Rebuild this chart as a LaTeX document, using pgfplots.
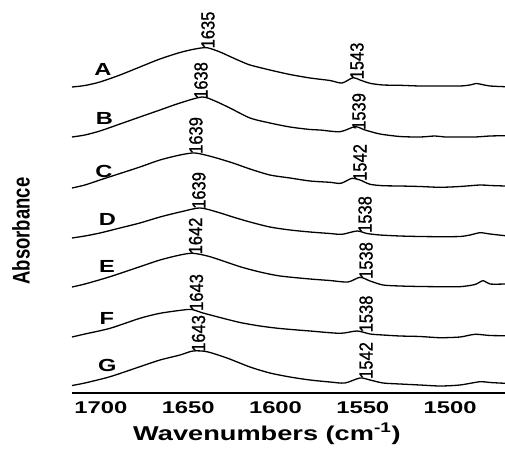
\documentclass[border=0pt]{standalone}
\usepackage{fontspec}
\setmainfont{Liberation Sans}
\newfontfamily\peakfont[FakeBold=1]{Liberation Sans}
\usepackage{pgfplots}
\pgfplotsset{compat=1.18}

% FTIR amide region, spectra A--G stacked with vertical offsets (a.u.)
\begin{document}
\begin{tikzpicture}[
  letter/.style={font=\fontsize{17.5}{17.5}\selectfont\bfseries, xscale=1.35, inner sep=0pt, anchor=center},
  peak/.style={font=\fontsize{16.5}{16.5}\peakfont, xscale=1.15, rotate=90, anchor=west, inner sep=0pt},
]
\useasboundingbox (0pt,0pt) rectangle (505pt,450pt);
\begin{axis}[
  at={(72pt,57pt)}, anchor=south west,
  scale only axis, width=433pt, height=393pt,
  x dir=reverse, xmin=1468.5, xmax=1716.6,
  ymin=0, ymax=393,
  axis x line=bottom, axis y line=none,
  x axis line style={-, line width=2.2pt},
  major tick length=0pt,
  xtick={1700,1650,1600,1550,1500},
  xticklabels={1700,1650,1600,1550,1500},
  xticklabel style={font=\fontsize{17}{17}\selectfont\bfseries, xscale=1.4, anchor=base, yshift=-20pt},
  clip=false,
  cycle list={{black, solid, mark=none}},
  every axis plot/.append style={line width=1.3pt, smooth, tension=0.45},
]
% A
\addplot coordinates {
(1716.6,306) (1709.2,307.5) (1700.6,311) (1689.1,318) (1677.7,326) (1666.2,334)
(1654.7,340.5) (1646.1,344) (1639.3,345.3) (1631.8,341) (1626.1,336.5) (1620.3,332)
(1614.6,328) (1603.2,323) (1591.7,318.5) (1580.2,315) (1568.8,312.5) (1561.9,310)
(1555.6,315.3) (1551.6,313) (1545.8,309.7) (1538.4,308) (1528.7,307.7) (1517.2,307)
(1505.7,307) (1494.3,307) (1488.5,308) (1485.1,309.5) (1481.7,308.5) (1477.1,307) (1468.5,306.3)};
% B
\addplot coordinates {
(1716.6,256) (1709.2,258) (1700.6,262) (1689.1,269) (1677.7,276) (1666.2,283)
(1654.7,290) (1642.1,296) (1634.7,292) (1626.1,285) (1614.6,275) (1603.2,270)
(1591.7,266) (1580.2,263.5) (1574.5,263) (1563.0,261.3) (1554.4,266.3) (1548.7,263)
(1540.1,259) (1528.7,256.5) (1517.2,256) (1508.6,257) (1502.9,256) (1494.3,256)
(1485.7,256) (1477.1,257) (1468.5,257.3)};
% C
\addplot coordinates {
(1716.6,205) (1709.2,208) (1700.6,213) (1689.1,219.5) (1677.7,226) (1666.2,233)
(1654.7,238) (1646.1,240) (1635.8,236) (1624.4,230) (1614.6,224) (1603.2,218)
(1591.7,215) (1580.2,212) (1568.8,210.7) (1562.5,209.7) (1556.2,214.7) (1551.6,213)
(1545.8,208.7) (1538.4,207.3) (1528.7,207) (1517.2,206.5) (1505.7,205.7) (1494.3,206.5)
(1482.8,208) (1477.1,207.5) (1468.5,207)};
% D
\addplot coordinates {
(1716.6,155) (1709.2,157) (1700.6,160) (1689.1,165) (1677.7,170) (1666.2,176)
(1654.7,181) (1643.3,185) (1633.5,181) (1624.4,176) (1614.6,171) (1603.2,166)
(1591.7,163) (1580.2,161) (1568.8,159.5) (1561.9,158.7) (1553.3,162) (1547.6,159.5)
(1540.1,158) (1528.7,157) (1517.2,156.5) (1505.7,156.3) (1494.3,156.5) (1488.5,158)
(1482.8,160.3) (1477.1,159) (1468.5,157.3)};
% E
\addplot coordinates {
(1716.6,106) (1709.2,109) (1694.8,116.3) (1677.7,126.3) (1666.2,133) (1654.7,138)
(1647.3,139.7) (1637.5,136.3) (1620.3,126.3) (1608.9,121) (1597.4,117) (1580.2,114)
(1568.8,112.5) (1558.5,111) (1551.6,115.7) (1545.8,112) (1538.4,108) (1528.7,107)
(1517.2,106.5) (1505.7,106.3) (1494.3,106.3) (1485.7,108.5) (1481.1,112.3) (1477.1,109)
(1468.5,109)};
% F
\addplot coordinates {
(1716.6,56) (1709.2,59) (1694.8,64.7) (1677.7,74.7) (1666.2,79.7) (1653.0,83)
(1647.9,83.5) (1641.5,80) (1631.8,75.5) (1620.3,70.5) (1608.9,67) (1597.4,64.5)
(1580.2,62) (1563.0,59.7) (1553.3,62) (1545.8,59) (1538.4,58) (1528.7,57)
(1517.2,56.5) (1505.7,55.3) (1494.3,56) (1485.7,58.7) (1477.1,57.5) (1468.5,57.3)};
% G
\addplot coordinates {
(1716.6,7.5) (1709.2,10) (1694.8,16.3) (1677.7,26.3) (1666.2,33) (1654.7,38)
(1647.3,42) (1639.3,41.3) (1627.8,35) (1614.6,26) (1603.2,20) (1591.7,16)
(1580.2,13) (1568.8,11) (1560.2,10) (1551.6,15) (1545.8,13) (1538.4,10)
(1528.7,9) (1517.2,8) (1505.7,7) (1494.3,8) (1482.8,11.3) (1477.1,10.5) (1468.5,9.7)};

% sample letters
\node[letter] at (axis cs:1698.9,324)   {A};
\node[letter] at (axis cs:1698.0,274.5) {B};
\node[letter] at (axis cs:1698.3,222)   {C};
\node[letter] at (axis cs:1696.3,174)   {D};
\node[letter] at (axis cs:1696.6,127)   {E};
\node[letter] at (axis cs:1696.6,74.5)  {F};
\node[letter] at (axis cs:1696.3,28)    {G};

% band positions
\node[peak] at (axis cs:1638.7,344.5) {1635};
\node[peak] at (axis cs:1553.3,313.5) {1543};
\node[peak] at (axis cs:1642.7,294)   {1638};
\node[peak] at (axis cs:1552.2,263)   {1539};
\node[peak] at (axis cs:1645.6,239)   {1639};
\node[peak] at (axis cs:1551.6,212)   {1542};
\node[peak] at (axis cs:1643.9,184)   {1639};
\node[peak] at (axis cs:1548.7,160)   {1538};
\node[peak] at (axis cs:1645.8,138.5) {1642};
\node[peak] at (axis cs:1548.1,114)   {1538};
\node[peak] at (axis cs:1645.3,82)    {1643};
\node[peak] at (axis cs:1548.1,60.5)  {1538};
\node[peak] at (axis cs:1644.1,41)    {1643};
\node[peak] at (axis cs:1548.1,14)    {1542};
\end{axis}

\node[font=\fontsize{18.5}{18.5}\selectfont\bfseries, xscale=1.3, rotate=90, inner sep=0pt]
  at (21pt,219pt) {Absorbance};
\node[font=\fontsize{20}{20}\selectfont\bfseries, xscale=1.36, anchor=base, inner sep=0pt]
  at (267pt,10pt) {Wavenumbers (cm\textsuperscript{-1})};
\end{tikzpicture}
\end{document}
